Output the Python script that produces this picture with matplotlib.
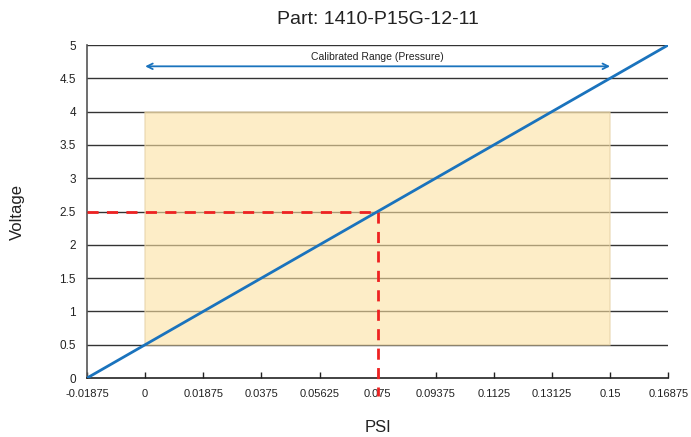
import matplotlib
matplotlib.use("Agg")
import matplotlib.pyplot as plt
import numpy as np

plt.rcParams['font.family'] = ['Liberation Sans', 'DejaVu Sans']

# data
psi_ticks = [-0.01875, 0, 0.01875, 0.0375, 0.05625, 0.075, 0.09375, 0.1125, 0.13125, 0.15, 0.16875]
psi_tick_labels = ['-0.01875', '0', '0.01875', '0.0375', '0.05625', '0.075', '0.09375', '0.1125', '0.13125', '0.15', '0.16875']
volt_ticks = [0, 0.5, 1, 1.5, 2, 2.5, 3, 3.5, 4, 4.5, 5]
volt_tick_labels = ['0', '0.5', '1', '1.5', '2', '2.5', '3', '3.5', '4', '4.5', '5']
line_psi = [-0.01875, 0.16875]
line_volt = [0, 5]
cal_psi = [0, 0.15]
cal_volt = [0.5, 4]
marker_psi = 0.075
marker_volt = 2.5

fig = plt.figure(figsize=(6.91, 4.37), dpi=100)
ax = fig.add_axes([0.126, 0.135, 0.841, 0.762])

# grid lines
for v in volt_ticks[1:]:
    ax.axhline(v, color='#333333', lw=1.0, zorder=1)

# calibrated range box
ax.fill_between(cal_psi, cal_volt[0], cal_volt[1], facecolor='#fce2a2', alpha=0.6,
                edgecolor='#e6d3a8', lw=1.2, zorder=2)

# red dashed guide
ax.plot([line_psi[0], marker_psi], [marker_volt, marker_volt], color='#ee2222',
        lw=2, ls=(0, (4, 3)), zorder=3)
ax.plot([marker_psi, marker_psi], [marker_volt, -0.27], color='#ee2222',
        lw=2, ls=(0, (4, 3)), zorder=3, clip_on=False)

# transfer line
ax.plot(line_psi, line_volt, color='#1a73bd', lw=2, zorder=4)

# arrow for calibrated range
ax.annotate('', xy=(cal_psi[0], 4.68), xytext=(cal_psi[1], 4.68),
            arrowprops=dict(arrowstyle='<->', color='#1a73bd', lw=1.3,
                            shrinkA=0, shrinkB=0))
ax.text((cal_psi[0] + cal_psi[1]) / 2, 4.74, 'Calibrated Range (Pressure)',
        ha='center', va='bottom', fontsize=7.5, color='#222222')

ax.set_xlim(line_psi[0], line_psi[1])
ax.set_ylim(0, 5)
ax.set_xticks(psi_ticks)
ax.set_xticklabels(psi_tick_labels)
ax.set_yticks(volt_ticks)
ax.set_yticklabels(volt_tick_labels)
ax.tick_params(axis='x', direction='in', length=4, width=1, labelsize=8, pad=8, colors='#222222')
ax.tick_params(axis='y', length=0, labelsize=8.5, pad=8, colors='#222222')

for s in ['top', 'right']:
    ax.spines[s].set_visible(False)
ax.spines['left'].set_color('#555555')
ax.spines['left'].set_linewidth(1.2)
ax.spines['bottom'].set_color('#222222')
ax.spines['bottom'].set_linewidth(1.2)

ax.set_title('Part: 1410-P15G-12-11', fontsize=14, pad=15, color='#222222')
ax.set_xlabel('PSI', fontsize=12, labelpad=15, color='#222222')
ax.set_ylabel('Voltage', fontsize=12, labelpad=25, color='#222222')

fig.savefig('out.png', dpi=100)
